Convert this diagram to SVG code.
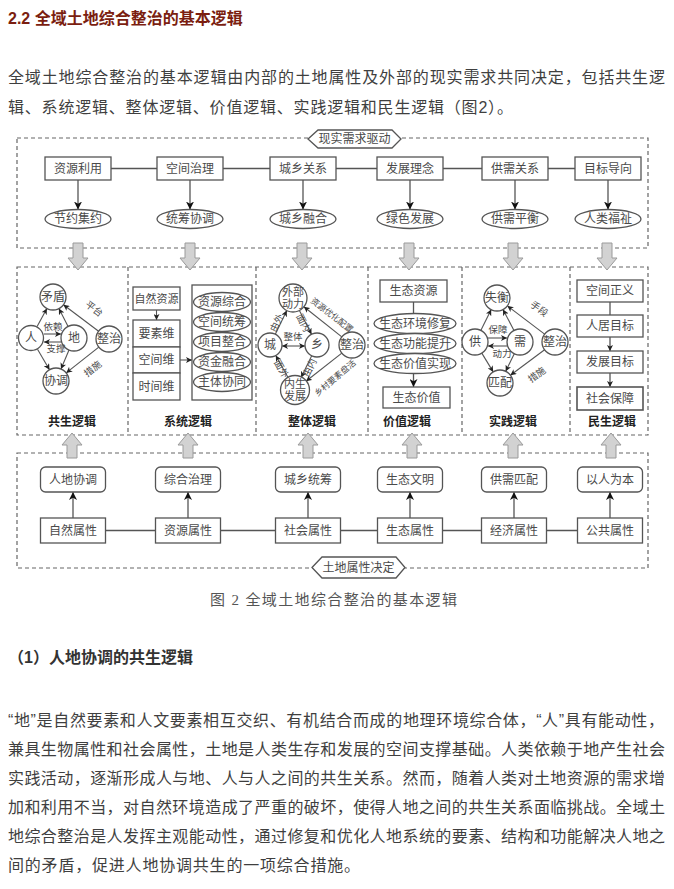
<svg xmlns="http://www.w3.org/2000/svg" width="674" height="889" viewBox="0 0 674 889">
<defs>
<marker id="ah" markerWidth="8" markerHeight="8" refX="8" refY="4" orient="auto-start-reverse" markerUnits="userSpaceOnUse"><path d="M0,0 L8,4 L0,8 L2.2,4 Z" fill="#111"/></marker>
<marker id="ahs" markerWidth="6" markerHeight="6" refX="6" refY="3" orient="auto-start-reverse" markerUnits="userSpaceOnUse"><path d="M0,0 L6,3 L0,6 L1.6,3 Z" fill="#222"/></marker>
<path id="gd" d="M-5,0 H5 V15 H10 L0,27 L-10,15 H-5 Z"/>
<path id="gu" d="M0,0 L10,12 H5 V25 H-5 V12 H-10 Z"/>
</defs>
<style>
.body{font-family:"Liberation Sans","Noto Sans CJK SC",sans-serif;font-size:16px;fill:#3f3f3f}
.h{font-family:"Liberation Sans","Noto Sans CJK SC",sans-serif;font-size:16px;font-weight:bold;fill:#7b1e10}
.hb{font-family:"Liberation Sans","Noto Sans CJK SC",sans-serif;font-size:16px;font-weight:bold;fill:#333}
.cap{font-family:"Liberation Serif","Noto Sans CJK SC",serif;font-size:15px;fill:#555}
.t{font-family:"Liberation Serif","Noto Sans CJK SC",serif;font-size:12px;fill:#4a4a4a;text-anchor:middle;dominant-baseline:central}
.s{font-size:9.5px}
.xs{font-size:8.5px}
.ttl{font-weight:bold;fill:#222;font-size:12px}
.box{fill:#fff;stroke:#555;stroke-width:1.3}
.dash{fill:none;stroke:#666;stroke-width:1.2;stroke-dasharray:4 3}
.ln{fill:none;stroke:#555;stroke-width:1.3}
.thin{stroke-width:1.1}
.ar{marker-end:url(#ah)}
.as{marker-end:url(#ahs)}
.as2{marker-start:url(#ahs);marker-end:url(#ahs)}
.g{fill:#d2d2d2;stroke:#9a9a9a;stroke-width:1}
</style>
<rect width="674" height="889" fill="#fff"/>

<g id="heading">
<text class="h" x="8" y="24">2.2 全域土地综合整治的基本逻辑</text>
</g>
<g id="intro">
<text class="body" x="8" y="83" textLength="657" lengthAdjust="spacing">全域土地综合整治的基本逻辑由内部的土地属性及外部的现实需求共同决定，包括共生逻</text>
<text class="body" x="8" y="113" letter-spacing="0.8">辑、系统逻辑、整体逻辑、价值逻辑、实践逻辑和民生逻辑（图2）。</text>
</g>

<g id="frames">
<rect class="dash" x="17" y="138" width="631" height="110"/>
<rect class="dash" x="17" y="267" width="631" height="168"/>
<path class="dash" d="M128,267 V435 M256,267 V435 M368,267 V435 M462,267 V435 M570,267 V435"/>
<rect class="dash" x="17" y="453" width="631" height="115"/>
</g>

<g id="connectors">
<path class="ln" d="M111,168.5 H575"/>
<path class="ln ar" d="M78,180 V209.5"/>
<path class="ln ar" d="M190,180 V209.5"/>
<path class="ln ar" d="M303,180 V209.5"/>
<path class="ln ar" d="M410,180 V209.5"/>
<path class="ln ar" d="M515,180 V209.5"/>
<path class="ln ar" d="M608,180 V209.5"/>
<path class="ln" d="M105.5,530.5 H577.5"/>
<path class="ln ar" d="M73,518 V492"/>
<path class="ln ar" d="M188,518 V492"/>
<path class="ln ar" d="M308,518 V492"/>
<path class="ln ar" d="M410,518 V492"/>
<path class="ln ar" d="M514,518 V492"/>
<path class="ln ar" d="M610,518 V492"/>
<!-- section 1 -->
<path class="ln thin as" d="M37.1,326.5 L46.9,308.5"/>
<path class="ln thin as" d="M68.1,326.4 L58.9,308.6"/>
<path class="ln thin as" d="M37.5,349.2 L49.5,369.8"/>
<path class="ln thin as" d="M69,350 L61,369"/>
<path class="ln thin as" d="M44,334 H61"/>
<path class="ln thin as" d="M61,342 H44"/>
<path class="ln thin as" d="M98.6,331.2 L63.4,304.8"/>
<path class="ln thin as" d="M98.8,347.1 L66.2,372.9"/>
<!-- section 2 -->
<path class="ln thin as" d="M156.5,310 V320"/>
<path class="ln thin as" d="M180,360 H192"/>
<!-- section 3 -->
<path class="ln thin as" d="M275.3,334.2 L286.8,310.6"/>
<path class="ln thin as" d="M299.4,310.5 L311.5,334.3"/>
<path class="ln thin as" d="M311.7,355.8 L301.1,377.4"/>
<path class="ln thin as" d="M288.2,377.8 L275.8,355.5"/>
<path class="ln thin as2" d="M282,346 H305"/>
<path class="ln thin as" d="M341.8,336.9 L303.9,306.7"/>
<path class="ln thin as" d="M341.8,353.1 L306,381.3"/>
<!-- section 4 -->
<path class="ln" d="M413.5,302 V313.5"/>
<path class="ln ar" d="M413.5,373.5 V387"/>
<!-- section 5 -->
<path class="ln thin as" d="M480.8,330.4 L491.2,309.6"/>
<path class="ln thin as" d="M514,330.5 L503,309.5"/>
<path class="ln thin as" d="M481.8,353.1 L493.2,371.9"/>
<path class="ln thin as" d="M514.3,353.7 L505.7,371.3"/>
<path class="ln thin as" d="M488,338 H507"/>
<path class="ln thin as" d="M507,346 H488"/>
<path class="ln thin as" d="M544.6,334.1 L507.4,305.9"/>
<path class="ln thin as" d="M544.6,349.8 L510.4,375.2"/>
<!-- section 6 -->
<path class="ln" d="M610,302 V315"/>
<path class="ln as" d="M610,337 V351"/>
<path class="ln as" d="M610,373 V387"/>
<!-- gray block arrows -->
<use href="#gd" class="g" x="78" y="243"/>
<use href="#gd" class="g" x="190" y="243"/>
<use href="#gd" class="g" x="302" y="243"/>
<use href="#gd" class="g" x="409" y="243"/>
<use href="#gd" class="g" x="513" y="243"/>
<use href="#gd" class="g" x="607" y="243"/>
<use href="#gu" class="g" x="72" y="433"/>
<use href="#gu" class="g" x="188" y="433"/>
<use href="#gu" class="g" x="308" y="433"/>
<use href="#gu" class="g" x="412" y="433"/>
<use href="#gu" class="g" x="513" y="433"/>
<use href="#gu" class="g" x="611" y="433"/>
</g>

<g id="tag-top"><polygon class="box" points="308,139 318,130 392,130 401,139 392,148 318,148"/><text class="t" x="354.5" y="139">现实需求驱动</text></g>
<g id="tag-bottom"><polygon class="box" points="312,567.5 322,557 396,557 405,567.5 396,578 322,578"/><text class="t" x="358.5" y="567.5">土地属性决定</text></g>

<g id="n-zyly"><rect class="box" x="45" y="157" width="66" height="23"/><text class="t" x="78" y="168.5">资源利用</text></g>
<g id="n-kjzl"><rect class="box" x="157" y="157" width="66" height="23"/><text class="t" x="190" y="168.5">空间治理</text></g>
<g id="n-cxgx"><rect class="box" x="270" y="157" width="66" height="23"/><text class="t" x="303" y="168.5">城乡关系</text></g>
<g id="n-fzln"><rect class="box" x="377" y="157" width="66" height="23"/><text class="t" x="410" y="168.5">发展理念</text></g>
<g id="n-gxgx"><rect class="box" x="482" y="157" width="66" height="23"/><text class="t" x="515" y="168.5">供需关系</text></g>
<g id="n-mbdx"><rect class="box" x="575" y="157" width="66" height="23"/><text class="t" x="608" y="168.5">目标导向</text></g>

<g id="e-jyjy"><ellipse class="box" cx="78" cy="219" rx="33" ry="9.5"/><text class="t" x="78" y="219">节约集约</text></g>
<g id="e-tcxt"><ellipse class="box" cx="190" cy="219" rx="33" ry="9.5"/><text class="t" x="190" y="219">统筹协调</text></g>
<g id="e-cxrh"><ellipse class="box" cx="303" cy="219" rx="33" ry="9.5"/><text class="t" x="303" y="219">城乡融合</text></g>
<g id="e-lsfz"><ellipse class="box" cx="410" cy="219" rx="33" ry="9.5"/><text class="t" x="410" y="219">绿色发展</text></g>
<g id="e-gxph"><ellipse class="box" cx="515" cy="219" rx="33" ry="9.5"/><text class="t" x="515" y="219">供需平衡</text></g>
<g id="e-rlfz"><ellipse class="box" cx="608" cy="219" rx="33" ry="9.5"/><text class="t" x="608" y="219">人类福祉</text></g>

<g id="sec-gongsheng">
<circle class="box" cx="53" cy="297" r="13"/><text class="t" x="53" y="297">矛盾</text>
<circle class="box" cx="31" cy="338" r="12.5"/><text class="t" x="31" y="338">人</text>
<circle class="box" cx="74" cy="338" r="13"/><text class="t" x="74" y="338">地</text>
<circle class="box" cx="109" cy="339" r="13"/><text class="t" x="109" y="339">整治</text>
<circle class="box" cx="56" cy="381" r="13"/><text class="t" x="56" y="381">协调</text>
<text class="t s" x="53" y="327">依赖</text>
<text class="t s" x="56" y="349">支撑</text>
<text class="t s" transform="translate(94,309) rotate(37)">平台</text>
<text class="t s" transform="translate(93,369) rotate(-38)">措施</text>
<text class="t ttl" x="72" y="422">共生逻辑</text>
</g>

<g id="sec-xitong">
<rect class="box" x="133" y="287" width="47" height="23"/><text class="t" x="156.5" y="298.5" style="font-size:11px">自然资源</text>
<rect class="box" x="133" y="320" width="47" height="27"/><text class="t" x="156.5" y="333.5">要素维</text>
<rect class="box" x="133" y="347" width="47" height="26"/><text class="t" x="156.5" y="360">空间维</text>
<rect class="box" x="133" y="373" width="47" height="27"/><text class="t" x="156.5" y="386.5">时间维</text>
<rect class="box" x="192" y="285" width="60" height="115"/>
<ellipse class="box" cx="222" cy="302" rx="28.5" ry="9.5"/><text class="t" x="222" y="302">资源综合</text>
<ellipse class="box" cx="222" cy="322" rx="28.5" ry="9.5"/><text class="t" x="222" y="322">空间统筹</text>
<ellipse class="box" cx="222" cy="342" rx="28.5" ry="9.5"/><text class="t" x="222" y="342">项目整合</text>
<ellipse class="box" cx="222" cy="362" rx="28.5" ry="9.5"/><text class="t" x="222" y="362">资金融合</text>
<ellipse class="box" cx="222" cy="382" rx="28.5" ry="9.5"/><text class="t" x="222" y="382">主体协同</text>
<text class="t ttl" x="188" y="422">系统逻辑</text>
</g>

<g id="sec-zhengti">
<circle class="box" cx="293" cy="298" r="14"/><text class="t" x="293" y="292" style="font-size:11px">外部</text><text class="t" x="293" y="304" style="font-size:11px">动力</text>
<circle class="box" cx="270" cy="345" r="12"/><text class="t" x="270" y="345">城</text>
<circle class="box" cx="317" cy="345" r="12"/><text class="t" x="317" y="345">乡</text>
<circle class="box" cx="352" cy="345" r="13"/><text class="t" x="352" y="345">整治</text>
<circle class="box" cx="295" cy="390" r="14.5"/><text class="t" x="295" y="384" style="font-size:11px">内生</text><text class="t" x="295" y="396" style="font-size:11px">发展</text>
<text class="t s" transform="translate(277,323) rotate(-64)">由外</text>
<text class="t s" transform="translate(303,323) rotate(63)">面内</text>
<text class="t s" transform="translate(310,368) rotate(-64)">由内</text>
<text class="t s" transform="translate(281,369) rotate(61)">面外</text>
<text class="t s" x="293" y="337">整体</text>
<text class="t xs" transform="translate(332,315) rotate(38)">资源优化配置</text>
<text class="t xs" transform="translate(335,378) rotate(-40)">乡村要素盘活</text>
<text class="t ttl" x="312" y="422">整体逻辑</text>
</g>

<g id="sec-jiazhi">
<rect class="box" x="380" y="280" width="67" height="22"/><text class="t" x="413.5" y="291">生态资源</text>
<ellipse class="box" cx="415" cy="323.5" rx="41" ry="10"/><text class="t" x="415" y="323.5">生态环境修复</text>
<ellipse class="box" cx="415" cy="343.5" rx="41" ry="10"/><text class="t" x="415" y="343.5">生态功能提升</text>
<ellipse class="box" cx="415" cy="363.5" rx="41" ry="10"/><text class="t" x="415" y="363.5">生态价值实现</text>
<rect class="box" x="383" y="387" width="67" height="21"/><text class="t" x="416.5" y="397.5">生态价值</text>
<text class="t ttl" x="407" y="422">价值逻辑</text>
</g>

<g id="sec-shijian">
<circle class="box" cx="497" cy="298" r="13"/><text class="t" x="497" y="298">失衡</text>
<circle class="box" cx="475" cy="342" r="13"/><text class="t" x="475" y="342">供</text>
<circle class="box" cx="520" cy="342" r="13"/><text class="t" x="520" y="342">需</text>
<circle class="box" cx="555" cy="342" r="13"/><text class="t" x="555" y="342">整治</text>
<circle class="box" cx="500" cy="383" r="13"/><text class="t" x="500" y="383">匹配</text>
<text class="t s" x="498" y="330">保障</text>
<text class="t s" x="502" y="354">动力</text>
<text class="t s" transform="translate(539,309) rotate(37)">手段</text>
<text class="t s" transform="translate(537,375) rotate(-37)">措施</text>
<text class="t ttl" x="513" y="422">实践逻辑</text>
</g>

<g id="sec-minsheng">
<rect class="box" x="577" y="280" width="66" height="22"/><text class="t" x="610" y="291">空间正义</text>
<rect class="box" x="577" y="315" width="66" height="22"/><text class="t" x="610" y="326">人居目标</text>
<rect class="box" x="577" y="351" width="66" height="22"/><text class="t" x="610" y="362">发展目标</text>
<rect class="box" x="577" y="387" width="66" height="23" style="stroke-width:1.6"/><text class="t" x="610" y="398.5">社会保障</text>
<text class="t ttl" x="612" y="422">民生逻辑</text>
</g>

<g id="n-rdxt"><rect class="box" x="40.5" y="467" width="65" height="25" rx="5"/><text class="t" x="73" y="479.5">人地协调</text></g>
<g id="n-zhzl"><rect class="box" x="155.5" y="467" width="65" height="25" rx="5"/><text class="t" x="188" y="479.5">综合治理</text></g>
<g id="n-cxtc"><rect class="box" x="275.5" y="467" width="65" height="25" rx="5"/><text class="t" x="308" y="479.5">城乡统筹</text></g>
<g id="n-stwm"><rect class="box" x="377.5" y="467" width="65" height="25" rx="5"/><text class="t" x="410" y="479.5">生态文明</text></g>
<g id="n-gxpp"><rect class="box" x="481.5" y="467" width="65" height="25" rx="5"/><text class="t" x="514" y="479.5">供需匹配</text></g>
<g id="n-yrwb"><rect class="box" x="577.5" y="467" width="65" height="25" rx="5"/><text class="t" x="610" y="479.5">以人为本</text></g>

<g id="n-zrsx"><rect class="box" x="40.5" y="518" width="65" height="25"/><text class="t" x="73" y="530.5">自然属性</text></g>
<g id="n-zysx"><rect class="box" x="155.5" y="518" width="65" height="25"/><text class="t" x="188" y="530.5">资源属性</text></g>
<g id="n-shsx"><rect class="box" x="275.5" y="518" width="65" height="25"/><text class="t" x="308" y="530.5">社会属性</text></g>
<g id="n-stsx"><rect class="box" x="377.5" y="518" width="65" height="25"/><text class="t" x="410" y="530.5">生态属性</text></g>
<g id="n-jjsx"><rect class="box" x="481.5" y="518" width="65" height="25"/><text class="t" x="514" y="530.5">经济属性</text></g>
<g id="n-ggsx"><rect class="box" x="577.5" y="518" width="65" height="25"/><text class="t" x="610" y="530.5">公共属性</text></g>

<g id="caption">
<text class="cap" x="210" y="605" textLength="247" lengthAdjust="spacing">图 2  全域土地综合整治的基本逻辑</text>
</g>

<g id="section-text">
<text class="hb" x="8" y="663">（1）人地协调的共生逻辑</text>
<text class="body" x="8" y="726" textLength="656" lengthAdjust="spacing">“地”是自然要素和人文要素相互交织、有机结合而成的地理环境综合体，“人”具有能动性，</text>
<text class="body" x="8" y="755" textLength="657" lengthAdjust="spacing">兼具生物属性和社会属性，土地是人类生存和发展的空间支撑基础。人类依赖于地产生社会</text>
<text class="body" x="8" y="784" textLength="657" lengthAdjust="spacing">实践活动，逐渐形成人与地、人与人之间的共生关系。然而，随着人类对土地资源的需求增</text>
<text class="body" x="8" y="813" textLength="657" lengthAdjust="spacing">加和利用不当，对自然环境造成了严重的破坏，使得人地之间的共生关系面临挑战。全域土</text>
<text class="body" x="8" y="842" textLength="657" lengthAdjust="spacing">地综合整治是人发挥主观能动性，通过修复和优化人地系统的要素、结构和功能解决人地之</text>
<text class="body" x="8" y="871" letter-spacing="0.8">间的矛盾，促进人地协调共生的一项综合措施。</text>
</g>
</svg>
